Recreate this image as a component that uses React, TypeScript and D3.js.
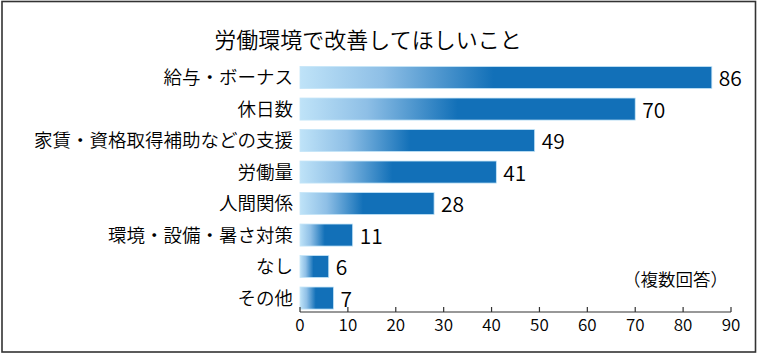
import React from "react";
import * as d3 from "d3";

const title = "労働環境で改善してほしいこと";
const categories = [
  "給与・ボーナス",
  "休日数",
  "家賃・資格取得補助などの支援",
  "労働量",
  "人間関係",
  "環境・設備・暑さ対策",
  "なし",
  "その他",
];
const values = [86, 70, 49, 41, 28, 11, 6, 7];
const xTicks = [0, 10, 20, 30, 40, 50, 60, 70, 80, 90];
const note = "（複数回答）";

const W = 760;
const H = 355;
const FONT = "'Noto Sans CJK JP', 'Noto Sans', sans-serif";
const WEIGHT = 350;

export default function App() {
  const x = d3.scaleLinear().domain([0, 90]).range([300, 731]);
  const y = d3
    .scaleBand<string>()
    .domain(categories)
    .range([61.8, 313.8])
    .paddingInner(0.3)
    .paddingOuter(0.15);
  const axisY = 312;
  const bw = y.bandwidth();

  return (
    <div style={{ position: "absolute", left: 0, top: 0 }}>
      <svg width={W} height={H} style={{ display: "block" }}>
        <defs>
          <linearGradient id="barGrad" x1="0" y1="0" x2="1" y2="0">
            <stop offset="0" stopColor="#bfe3f8" />
            <stop offset="0.2" stopColor="#8ebfe6" />
            <stop offset="0.47" stopColor="#1270b8" />
            <stop offset="1" stopColor="#1270b8" />
          </linearGradient>
        </defs>
        <rect x={2} y={1.5} width={753.5} height={350.5} fill="#fff" stroke="#333" strokeWidth={1.6} />
        <text x={368} y={48} textAnchor="middle" fontFamily={FONT} fontWeight={WEIGHT} fontSize={22} fill="#000">
          {title}
        </text>
        {categories.map((c, i) => {
          const yy = y(c)!;
          const cy = yy + bw / 2;
          return (
            <g key={c}>
              <rect
                x={x(0)}
                y={yy}
                width={x(values[i]) - x(0)}
                height={bw}
                fill="url(#barGrad)"
                stroke="#c5e5f8"
                strokeWidth={0.8}
              />
              <text
                x={293}
                y={cy}
                dy="0.35em"
                textAnchor="end"
                fontFamily={FONT}
                fontWeight={WEIGHT}
                fontSize={18.5}
                fill="#000"
              >
                {c}
              </text>
              <text
                x={x(values[i]) + 7}
                y={cy + 1}
                dy="0.36em"
                textAnchor="start"
                fontFamily={FONT}
                fontWeight={WEIGHT}
                fontSize={21}
                fill="#000"
              >
                {values[i]}
              </text>
            </g>
          );
        })}
        <line x1={x(0)} x2={x(90)} y1={axisY} y2={axisY} stroke="#333" strokeWidth={1.2} />
        {xTicks.map((t) => (
          <g key={t}>
            <line x1={x(t)} x2={x(t)} y1={axisY} y2={axisY - 5} stroke="#333" strokeWidth={1.2} />
            <text
              x={x(t)}
              y={325}
              dy="0.35em"
              textAnchor="middle"
              fontFamily={FONT}
              fontWeight={WEIGHT}
              fontSize={17}
              fill="#000"
            >
              {t}
            </text>
          </g>
        ))}
        <text x={728} y={280} dy="0.35em" textAnchor="end" fontFamily={FONT} fontWeight={WEIGHT} fontSize={17.5} fill="#000">
          {note}
        </text>
      </svg>
    </div>
  );
}
